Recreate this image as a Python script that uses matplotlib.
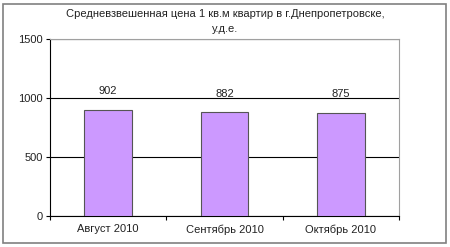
import numpy as np
import matplotlib.pyplot as plt

months = ["Август 2010", "Сентябрь 2010", "Октябрь 2010"]
prices = [902, 882, 875]

fs = 8
fam = "Liberation Sans"
tc = "#222222"

fig = plt.figure(figsize=(4.5, 2.47), dpi=100)
# outer frame
fig.patches.append(plt.Rectangle((3/450, 4/247), 443/450, 239/247, transform=fig.transFigure,
                                 fill=False, edgecolor="#808080", linewidth=1.2))

ax = fig.add_axes([50/450, (247-216)/247, 349/450, 177/247])
x = np.arange(len(months))
ax.bar(x, prices, width=0.41, color="#CC99FF", edgecolor="#555555", linewidth=0.8, zorder=3)
for xi, v in zip(x, prices):
    ax.text(xi, v + 155, str(v), ha="center", va="center", fontsize=fs, family=fam, color=tc)

ax.set_xlim(-0.5, 2.5)
ax.set_ylim(0, 1500)
ax.set_yticks([0, 500, 1000, 1500])
ax.set_yticklabels(["0", "500", "1000", "1500"], family=fam, fontsize=fs, color=tc)
ax.yaxis.grid(True, color="black", linewidth=0.8, zorder=0)
ax.set_xticks([-0.5, 0.5, 1.5, 2.5], minor=False)
ax.set_xticklabels([])
ax.set_xticks(x, minor=True)
ax.set_xticklabels(months, minor=True, family=fam, fontsize=fs, color=tc)
ax.tick_params(axis="x", which="minor", length=0, pad=6)
ax.tick_params(axis="x", which="major", length=3, width=0.8)
ax.tick_params(axis="y", length=3, width=0.8, pad=2)
ax.spines["top"].set_color("#a0a0a0")
ax.spines["right"].set_color("#a0a0a0")
for s in ["left", "bottom"]:
    ax.spines[s].set_linewidth(0.8)

fig.text(0.5, 1 - 14/247, "Средневзвешенная цена 1 кв.м квартир в г.Днепропетровске,",
         ha="center", va="center", fontsize=fs, family=fam, color=tc)
fig.text(0.5, 1 - 29/247, "у.д.е.", ha="center", va="center", fontsize=fs, family=fam, color=tc)

fig.savefig("out.png", dpi=100)
